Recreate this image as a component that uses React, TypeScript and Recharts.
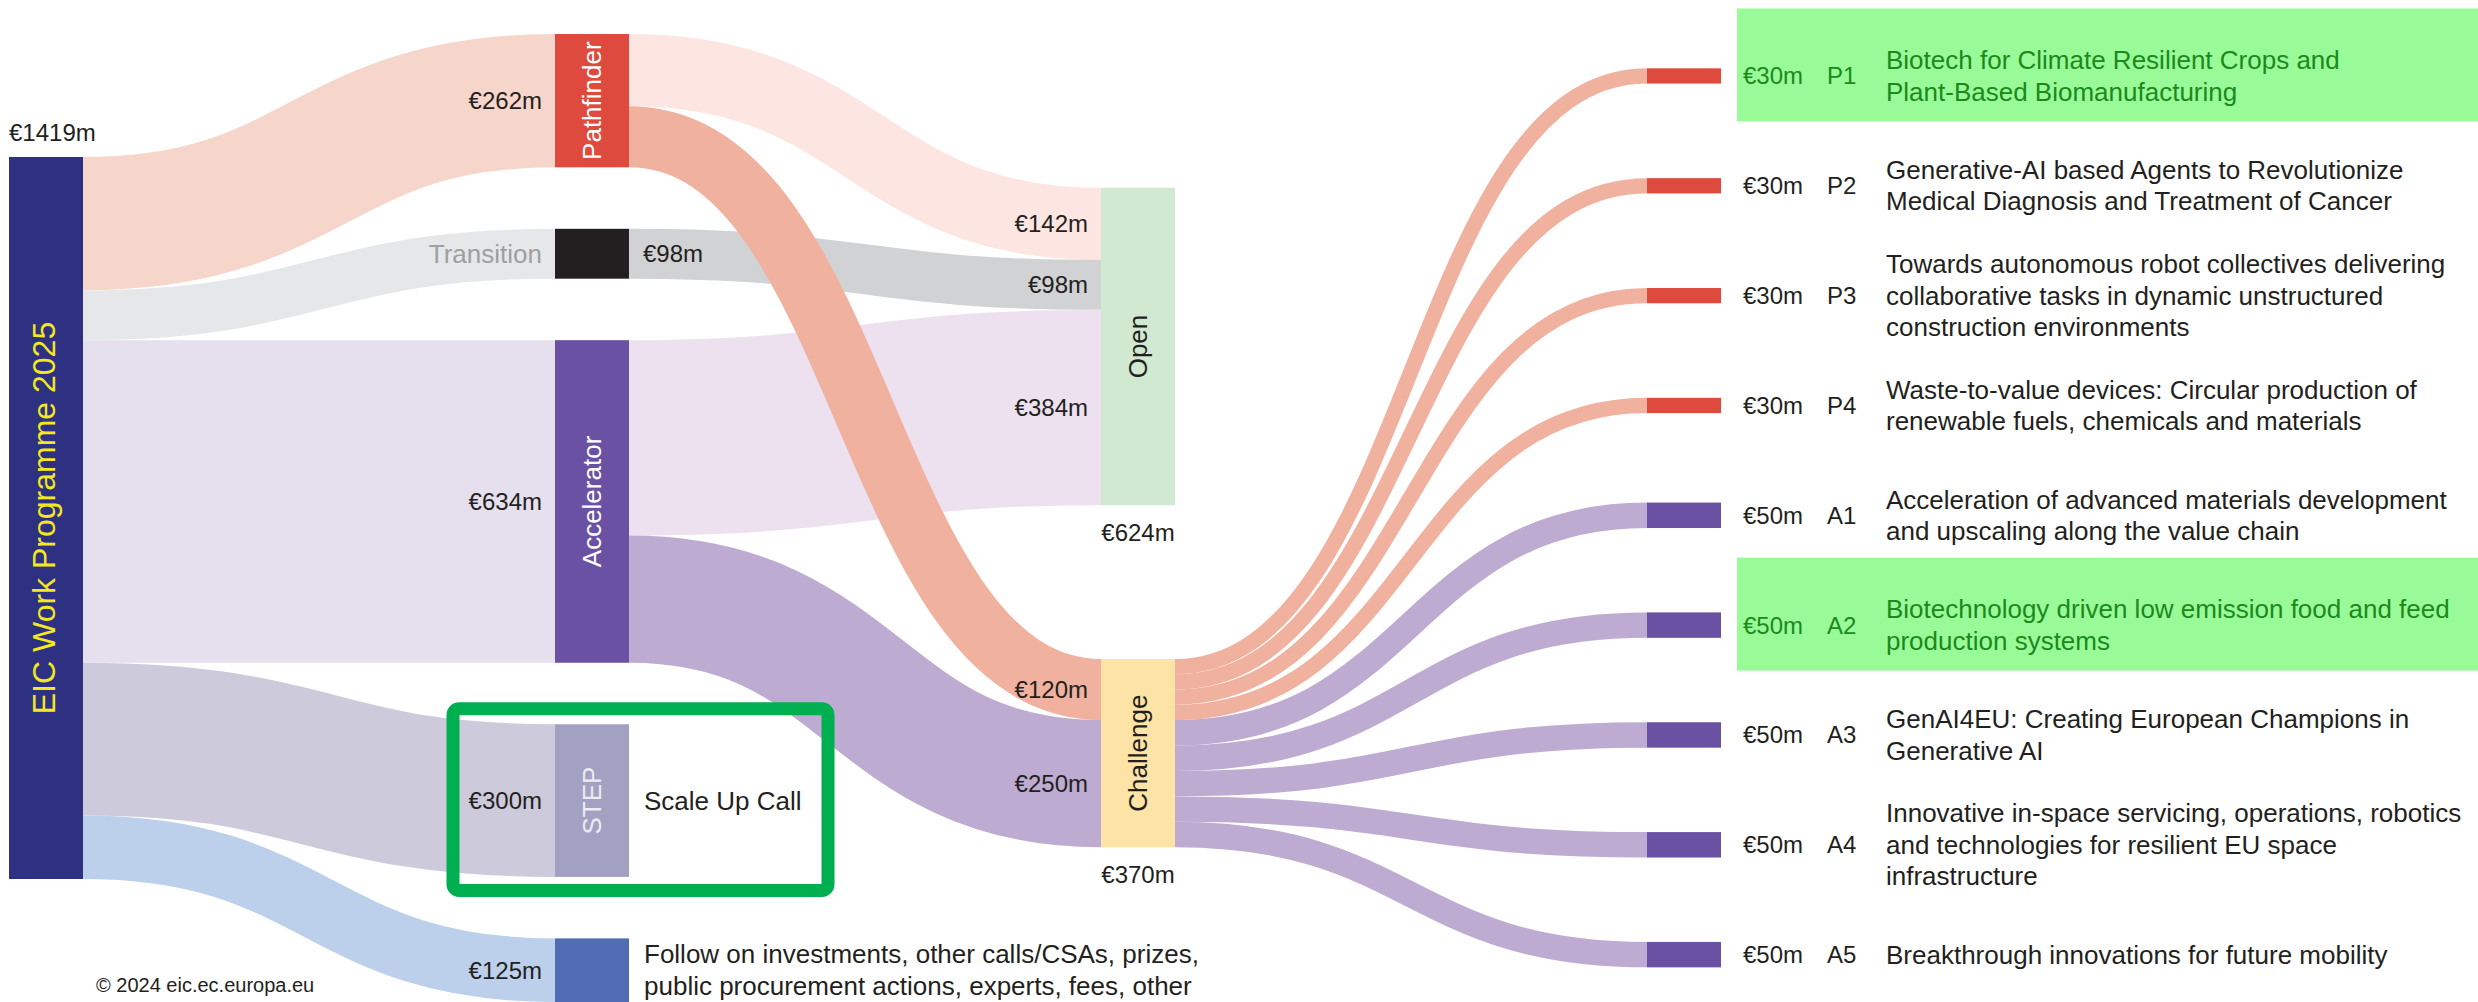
import React from 'react';
import { Sankey } from 'recharts';

// ---------------- data ----------------
const programmeTitle = 'EIC Work Programme 2025';

const instruments = ['Pathfinder', 'Transition', 'Accelerator', 'STEP', 'Other'];
const instrumentBudgets = [262, 98, 634, 300, 125];

const openSources = ['Pathfinder', 'Transition', 'Accelerator'];
const openValues = [142, 98, 384];
const challengeSources = ['Pathfinder', 'Accelerator'];
const challengeValues = [120, 250];

const topicCodes = ['P1', 'P2', 'P3', 'P4', 'A1', 'A2', 'A3', 'A4', 'A5'];
const topicBudgets = [30, 30, 30, 30, 50, 50, 50, 50, 50];
const topicTitles = [
  ['Biotech for Climate Resilient Crops and', 'Plant-Based Biomanufacturing'],
  ['Generative-AI based Agents to Revolutionize', 'Medical Diagnosis and Treatment of Cancer'],
  ['Towards autonomous robot collectives delivering', 'collaborative tasks in dynamic unstructured', 'construction environments'],
  ['Waste-to-value devices: Circular production of', 'renewable fuels, chemicals and materials'],
  ['Acceleration of advanced materials development', 'and upscaling along the value chain'],
  ['Biotechnology driven low emission food and feed', 'production systems'],
  ['GenAI4EU: Creating European Champions in', 'Generative AI'],
  ['Innovative in-space servicing, operations, robotics', 'and technologies for resilient EU space', 'infrastructure'],
  ['Breakthrough innovations for future mobility'],
];
const highlightedTopics = ['P1', 'A2'];

const stepNote = ['Scale Up Call'];
const otherNote = ['Follow on investments, other calls/CSAs, prizes,', 'public procurement actions, experts, fees, other'];
const copyright = '\u00a9 2024 eic.ec.europa.eu';

// ---------------- invisible layout helpers ----------------
// recharts stacks every column from the top, so empty helper nodes push
// real nodes down by one nodePadding each; weighted helpers (fed by Open)
// open up the space between the topics in the last column
const programmeLead = 4;
const poolLead = 5;
const poolGap = 4;
const topicGapValues = [7, 65, 65, 65, 55, 45, 45, 45, 45];

// ---------------- styles ----------------
const W = 2478;
const FONT = '"Liberation Sans", Arial, Helvetica, sans-serif';
const INK = '#231f20';
const GREEN_TEXT = '#1b8a1b';

const nodeFill: Record<string, string> = {
  [programmeTitle]: '#2e3182',
  Pathfinder: '#df4a3f',
  Transition: '#231f20',
  Accelerator: '#6b51a3',
  STEP: '#a3a1c2',
  Other: '#506cb5',
  Open: '#d0e9d0',
  Challenge: '#fde3a6',
};
const innerLabelColor: Record<string, string> = {
  Pathfinder: '#ffffff',
  Accelerator: '#ffffff',
  STEP: '#ecebf3',
  Open: INK,
  Challenge: INK,
};
const linkColor: Record<string, string> = {
  Pathfinder: '#f6d5ca',
  Transition: '#e6e7e8',
  Accelerator: '#e5dfee',
  STEP: '#cdcadc',
  Other: '#bccfeb',
  'Pathfinder>Open': '#fde5e1',
  'Transition>Open': '#d1d2d4',
  'Accelerator>Open': '#ede1ef',
  'Pathfinder>Challenge': '#f0b19f',
  'Accelerator>Challenge': '#bdabd2',
  P: '#f0b19f',
  A: '#bdabd2',
};

// ---------------- build sankey table ----------------
const nodes: any[] = [];
const links: any[] = [];
const idx: Record<string, number> = {};
const addNode = (name: string, role: string) => {
  idx[name] = nodes.length;
  nodes.push({ name, role });
};
const addLink = (s: string, t: string, value: number, color?: string) => {
  links.push({ source: idx[s], target: idx[t], value, color });
};

// column 0
for (let i = 0; i < programmeLead; i++) addNode(`c0-${i}`, 'spacer');
addNode(programmeTitle, 'root');
// column 1
instruments.forEach((n, i) => {
  addNode(n, 'instrument');
  if (i < instruments.length - 1) addNode(`c1-${i}`, 'spacer');
});
// column 2
for (let i = 0; i < poolLead; i++) addNode(`c2a-${i}`, 'spacer');
addNode('Open', 'pool');
for (let i = 0; i < poolGap; i++) addNode(`c2b-${i}`, 'spacer');
addNode('Challenge', 'pool');
// column 3
topicCodes.forEach((c, i) => {
  addNode(`gap-${i}`, 'spacer');
  addNode(c, 'topic');
});

const sink = 'gap-0';
for (let i = 0; i < programmeLead; i++) addLink(`c0-${i}`, sink, 0);
instruments.forEach((n, i) => addLink(programmeTitle, n, instrumentBudgets[i], linkColor[n]));
for (let i = 0; i < instruments.length - 1; i++) {
  addLink(programmeTitle, `c1-${i}`, 0);
  addLink(`c1-${i}`, sink, 0);
}
openSources.forEach((s, i) => addLink(s, 'Open', openValues[i], linkColor[`${s}>Open`]));
challengeSources.forEach((s, i) => addLink(s, 'Challenge', challengeValues[i], linkColor[`${s}>Challenge`]));
// STEP and Other end in column 1, so they feed the empty helpers of column 2
for (let i = 0; i < poolLead; i++) {
  addLink('STEP', `c2a-${i}`, 0);
  addLink(`c2a-${i}`, sink, 0);
}
for (let i = 0; i < poolGap; i++) {
  addLink('Other', `c2b-${i}`, 0);
  addLink(`c2b-${i}`, sink, 0);
}
topicGapValues.forEach((v, i) => addLink('Open', `gap-${i}`, v));
topicCodes.forEach((c, i) => addLink('Challenge', c, topicBudgets[i], linkColor[c[0]]));

const sankeyData = { nodes, links };

// ---------------- renderers ----------------
const euro = (v: number) => `\u20ac${v}m`;

function Lines({ x, cy, lines, size, gap, fill }: any) {
  const top = cy - ((lines.length - 1) * gap) / 2;
  return (
    <text x={x} fontSize={size} fill={fill} fontFamily={FONT}>
      {lines.map((l: string, i: number) => (
        <tspan key={i} x={x} y={top + i * gap} dominantBaseline="central">
          {l}
        </tspan>
      ))}
    </text>
  );
}

function Rotated({ cx, cy, text, size, fill }: any) {
  return (
    <text
      x={cx}
      y={cy}
      transform={`rotate(-90 ${cx} ${cy})`}
      textAnchor="middle"
      dominantBaseline="central"
      fontSize={size}
      fill={fill}
      fontFamily={FONT}
    >
      {text}
    </text>
  );
}

function NodeShape(props: any) {
  const { x, y, width, height, payload } = props;
  const { role, name, value } = payload;
  if (role === 'spacer') return <g />;
  const cx = x + width / 2;
  const cy = y + height / 2;

  if (role === 'root') {
    return (
      <g>
        <rect x={x} y={y} width={width} height={height} fill={nodeFill[name]} />
        <text x={x} y={y - 25} fontSize={24} fill={INK} fontFamily={FONT} dominantBaseline="central">
          {euro(value)}
        </text>
        <Rotated cx={cx - 2} cy={cy} text={name} size={32} fill="#f4e81e" />
      </g>
    );
  }

  if (role === 'instrument') {
    const isTransition = name === 'Transition';
    return (
      <g>
        <rect x={x} y={y} width={width} height={height} fill={nodeFill[name]} />
        {isTransition ? (
          <text x={x - 13} y={cy} textAnchor="end" dominantBaseline="central" fontSize={26} fill="#9d9fa2" fontFamily={FONT}>
            {name}
          </text>
        ) : (
          <text x={x - 13} y={cy} textAnchor="end" dominantBaseline="central" fontSize={24} fill={INK} fontFamily={FONT}>
            {euro(value)}
          </text>
        )}
        {innerLabelColor[name] && <Rotated cx={cx} cy={cy} text={name} size={26} fill={innerLabelColor[name]} />}
        {isTransition && (
          <text x={x + width + 14} y={cy} dominantBaseline="central" fontSize={24} fill={INK} fontFamily={FONT}>
            {euro(value)}
          </text>
        )}
        {name === 'STEP' && (
          <>
            <Lines x={x + width + 15} cy={cy} lines={stepNote} size={26} gap={32} fill={INK} />
            <rect x={x - 102} y={y - 15.5} width={375} height={height + 29} rx={6} fill="none" stroke="#00b050" strokeWidth={13} />
          </>
        )}
        {name === 'Other' && <Lines x={x + width + 15} cy={cy} lines={otherNote} size={26} gap={31.7} fill={INK} />}
      </g>
    );
  }

  if (role === 'pool') {
    return (
      <g>
        <rect x={x} y={y} width={width} height={height} fill={nodeFill[name]} />
        <Rotated cx={cx} cy={cy} text={name} size={26} fill={innerLabelColor[name]} />
        <text x={cx} y={y + height + 27} textAnchor="middle" dominantBaseline="central" fontSize={24} fill={INK} fontFamily={FONT}>
          {euro(value)}
        </text>
      </g>
    );
  }

  // topic
  const t = topicCodes.indexOf(name);
  const hl = highlightedTopics.includes(name);
  const fill = name[0] === 'P' ? nodeFill.Pathfinder : nodeFill.Accelerator;
  const textFill = hl ? GREEN_TEXT : INK;
  const left = x + width;
  return (
    <g>
      {hl && <rect x={left + 16} y={cy - 11 - 56.5} width={W - left - 16} height={113} fill="#98fb98" />}
      <rect x={x} y={y} width={width} height={height} fill={fill} />
      <text x={left + 22} y={cy} dominantBaseline="central" fontSize={24} fill={textFill} fontFamily={FONT}>
        {euro(value)}
      </text>
      <text x={left + 106} y={cy} dominantBaseline="central" fontSize={24} fill={textFill} fontFamily={FONT}>
        {name}
      </text>
      <Lines x={left + 165} cy={cy} lines={topicTitles[t]} size={26} gap={31.4} fill={textFill} />
    </g>
  );
}

function LinkShape(props: any) {
  const { sourceX, targetX, sourceY, targetY, sourceControlX, targetControlX, linkWidth, payload } = props;
  if (!payload || !payload.color) return <g />;
  const target = typeof payload.target === 'object' ? payload.target : nodes[payload.target];
  const showLabel = target && target.role === 'pool';
  return (
    <g>
      <path
        d={`M${sourceX},${sourceY} C${sourceControlX},${sourceY} ${targetControlX},${targetY} ${targetX},${targetY}`}
        fill="none"
        stroke={payload.color}
        strokeWidth={linkWidth}
      />
      {showLabel && (
        <text x={targetX - 13} y={targetY} textAnchor="end" dominantBaseline="central" fontSize={24} fill={INK} fontFamily={FONT}>
          {euro(payload.value)}
        </text>
      )}
    </g>
  );
}

export default function App() {
  return (
    <div
      style={{
        position: 'absolute',
        left: 0,
        top: 0,
        width: W,
        height: 1002,
        overflow: 'hidden',
        background: '#ffffff',
        fontFamily: FONT,
      }}
    >
      <Sankey
        width={W}
        height={1010}
        data={sankeyData}
        nodeWidth={74}
        nodePadding={30.75}
        iterations={0}
        sort={false}
        margin={{ top: 34, right: W - 9 - 1712, bottom: 8, left: 9 }}
        node={NodeShape}
        link={LinkShape}
      />
      <div
        style={{
          position: 'absolute',
          left: 96,
          top: 972,
          fontSize: 20,
          color: INK,
          fontFamily: FONT,
          lineHeight: '26px',
        }}
      >
        {copyright}
      </div>
    </div>
  );
}
